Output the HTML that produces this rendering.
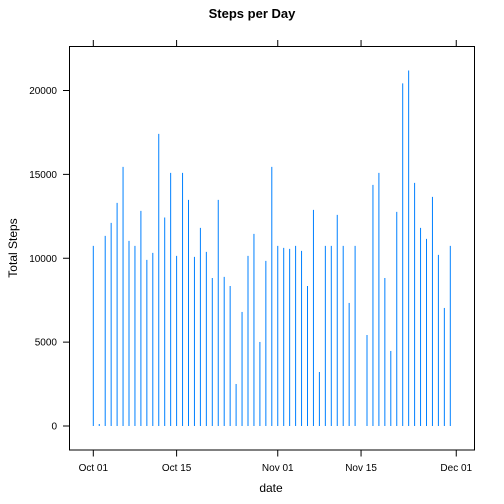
<!DOCTYPE html>
<html><head><meta charset="utf-8"><style>
body{margin:0;background:#fff}
svg{display:block;font-family:"Liberation Sans",sans-serif}
</style></head><body>
<svg id="c" width="504" height="504" xmlns="http://www.w3.org/2000/svg">
<text x="252" y="18" text-anchor="middle" font-weight="bold" font-size="13">Steps per Day</text>
<rect x="69.5" y="46.5" width="405" height="403.5" fill="none" stroke="#000" stroke-width="1"/>
<text x="271" y="492" text-anchor="middle" font-size="12">date</text>
<text transform="translate(17,248) rotate(-90)" text-anchor="middle" font-size="12">Total Steps</text>
<g id="ax"></g><g id="bars"></g>
</svg>
<script>
const values=[10736,119,11332,12107,13300,15447,11033,10736,12823,9900,10318,17415,12426,15089,10139,15089,13479,10079,11809,10377,8826,13479,8886,8349,2505,6799,10139,11451,5010,9840,15447,10736,10617,10557,10736,10437,8349,12883,3220,10736,10736,12584,10736,7336,10736,0,5427,14374,15089,8826,4473,12763,20427,21194,14493,11809,11153,13658,10198,7037,10736];
const yTicks=[0,5000,10000,15000,20000];
const xTickDays=[0,14,31,45,61];
const xTickLabels=["Oct 01","Oct 15","Nov 01","Nov 15","Dec 01"];
const NS="http://www.w3.org/2000/svg";
const X=d=>93.3+d*5.95;
const Y=v=>426-v*0.016775;
const ax=document.getElementById('ax'),bars=document.getElementById('bars');
function mk(t,a,p){const e=document.createElementNS(NS,t);for(const k in a)e.setAttribute(k,a[k]);p.appendChild(e);return e;}
yTicks.forEach(v=>{
 const l=mk('line',{x1:63,x2:69.5,y1:Y(v),y2:Y(v),stroke:'#000'},ax);
 
 
 const t=mk('text',{x:57,y:Y(v)+3.5,'text-anchor':'end','font-size':'10'},ax);t.textContent=v;
 
 
});
xTickDays.forEach((d,i)=>{
 const l=mk('line',{x1:X(d),x2:X(d),y1:450,y2:456.5,stroke:'#000'},ax);
 
 
 const l2=mk('line',{x1:X(d),x2:X(d),y1:40,y2:46.5,stroke:'#000'},ax);
 
 
 const t=mk('text',{x:X(d),y:471,'text-anchor':'middle','font-size':'10'},ax);t.textContent=xTickLabels[i];
 
 
});
values.forEach((v,i)=>{
 const l=mk('line',{x1:X(i),x2:X(i),y1:Y(0),y2:Y(v),stroke:'#0080ff','stroke-width':1},bars);
 
 
});
</script>
</body></html>
